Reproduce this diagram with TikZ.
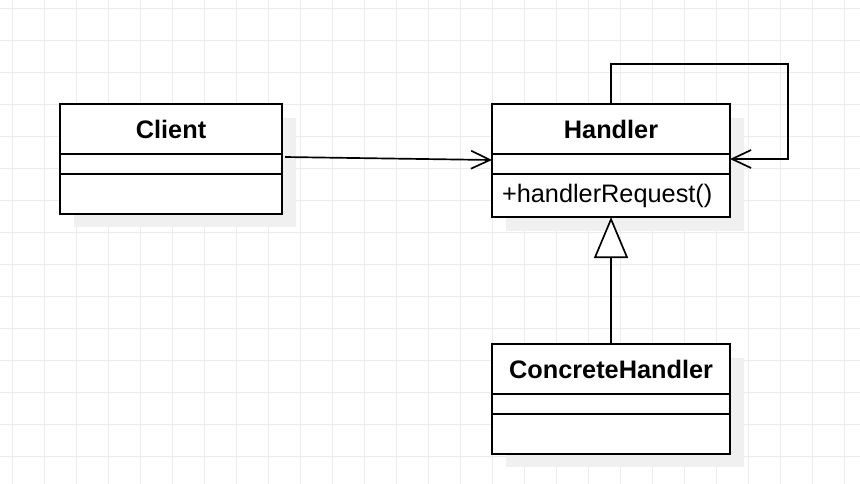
\documentclass[tikz,border=0pt]{standalone}
\usepackage{fontspec}
\setmainfont{Liberation Sans}
\usetikzlibrary{positioning, arrows.meta, backgrounds}
\definecolor{gridgray}{RGB}{236,236,236}
\definecolor{shadowgray}{RGB}{240,240,240}

\begin{document}
\begin{tikzpicture}[
        x=0.025cm, y=-0.025cm,
        every node/.style={font=\fontsize{18}{22}\selectfont},
        classname/.style={
            draw=black,
            fill=white,
            line width=1.4pt,
            outer sep=0pt,
            minimum height=1.25cm,
            font=\fontsize{18}{22}\selectfont\bfseries
        },
        classattr/.style={draw=black, fill=white, line width=1.4pt, outer sep=0pt, inner sep=0pt, minimum height=0.5cm},
        classops/.style={draw=black, fill=white, line width=1.4pt, outer sep=0pt, minimum height=1cm},
        assoc/.style={-{Straight Barb[length=0.475cm, width=0.45cm]}, line width=1.2pt},
        inherit/.style={-{Triangle[fill=white, length=1.025cm, width=0.85cm]}, line width=1.2pt},
        shadow/.style={fill=shadowgray}
    ]
        \useasboundingbox (0,0) rectangle (860,484);

        % Grid
        \begin{scope}[on background layer]
            \fill[white] (0,0) rectangle (860,484);
            \foreach \x in {12,44,...,844}
                \draw[gridgray, line width=0.6pt] (\x,0) -- (\x,484);
            \foreach \y in {8,40,...,472}
                \draw[gridgray, line width=0.6pt] (0,\y) -- (860,\y);
        \end{scope}

        % Classes
        \node[classname, minimum width=5.55cm, anchor=north west] (client) at (60,104) {Client};
        \node[classattr, minimum width=5.55cm, below=0pt of client] (clientAttr) {};
        \node[classops, minimum width=5.55cm, below=0pt of clientAttr] (clientOps) {};

        \node[classname, minimum width=5.95cm, anchor=north west] (handler) at (492,104) {Handler};
        \node[classattr, minimum width=5.95cm, below=0pt of handler] (handlerAttr) {};
        \node[classops, minimum height=1.075cm, text width=5.45cm, inner xsep=0.25cm, align=left, below=0pt of handlerAttr] (handlerOps) {+handlerRequest()};

        \node[classname, minimum width=5.95cm, anchor=north west] (concrete) at (492,344) {ConcreteHandler};
        \node[classattr, minimum width=5.95cm, below=0pt of concrete] (concreteAttr) {};
        \node[classops, minimum width=5.95cm, below=0pt of concreteAttr] (concreteOps) {};

        % Shadows
        \begin{scope}[on background layer]
            \fill[shadow] ([shift={(14,14)}]client.north west) rectangle ([shift={(14,13)}]clientOps.south east);
            \fill[shadow] ([shift={(14,14)}]handler.north west) rectangle ([shift={(14,14)}]handlerOps.south east);
            \fill[shadow] ([shift={(14,14)}]concrete.north west) rectangle ([shift={(14,13)}]concreteOps.south east);
        \end{scope}

        % Associations
        \draw[assoc] ([shift={(3,3)}]client.south east) -- ([shift={(0,6)}]handler.south west);
        \draw[assoc] (handler.north) |- ([shift={(58,-40)}]handler.north east) |- ([shift={(0,5)}]handler.south east);

        % Generalization
        \draw[inherit] (concrete.north) -- (handlerOps.south);
    \end{tikzpicture}
\end{document}
